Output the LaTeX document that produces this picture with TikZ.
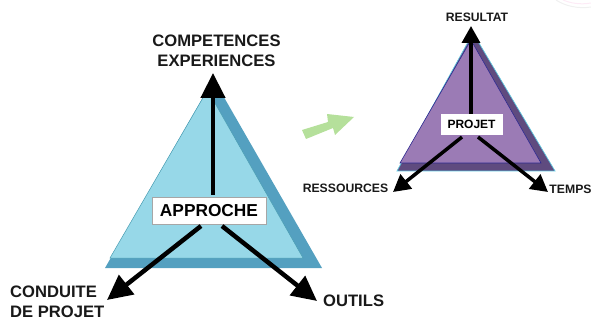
\documentclass[tikz,border=0pt]{standalone}
\usepackage{fontspec}
\setmainfont{Liberation Sans}
\usetikzlibrary{arrows.meta}
\definecolor{tealdark}{HTML}{54A0C0}
\definecolor{teallight}{HTML}{97D8E8}
\definecolor{tealline}{HTML}{4A9DB2}
\definecolor{purpledark}{HTML}{5F4B7F}
\definecolor{purplelight}{HTML}{9B7BB5}
\definecolor{purpleline}{HTML}{2E2A90}
\definecolor{cyanline}{HTML}{5CC4DC}
\definecolor{greenarrow}{HTML}{B5E09B}
\tikzset{
  big/.style={font=\bfseries\fontsize{16.6}{20}\selectfont,align=center,text=black!90,inner sep=0pt},
  small/.style={font=\bfseries\fontsize{12.2}{14}\selectfont,align=center,text=black!90,inner sep=0pt},
  bigbox/.style={draw=black!35,line width=.6pt,fill=white,minimum width=114pt,minimum height=27pt,font=\bfseries\fontsize{17.3}{20}\selectfont,inner sep=0pt},
  smallbox/.style={draw=white,fill=white,minimum width=61pt,minimum height=20pt,font=\bfseries\fontsize{12}{14}\selectfont,inner sep=0pt},
  bigarrow/.style={line width=4.5pt,-{Triangle[length=25pt,width=24pt]}},
  smallarrow/.style={line width=3.5pt,-{Triangle[length=17pt,width=18pt]}},
}
\begin{document}
\begin{tikzpicture}[x=1pt,y=-1pt]
\useasboundingbox (0,0) rectangle (591,320);
% faint decoration
\draw[draw=black!6,line width=1pt] (556,0) .. controls (565,6) and (578,9) .. (591,7);
\draw[draw=magenta!8,line width=1pt] (563,0) .. controls (570,3) and (580,5) .. (591,3);
% left triangle
\fill[tealdark] (105,268) -- (213.5,79) -- (322,268) -- cycle;
\draw[tealline,line width=.5pt,fill=teallight] (110,258) -- (207.5,90) -- (303,258) -- cycle;
% right triangle
\draw[cyanline,line width=.7pt,fill=purpledark] (397,171) -- (473,33) -- (555,171) -- cycle;
\draw[purpleline,line width=.6pt,fill=purplelight] (400,163) -- (471,40) -- (541,163) -- cycle;
% green arrow
\fill[greenarrow] (302,130) -- (328,122) -- (327,114) -- (354,117) -- (335,135) -- (333,128) -- (306,139) -- cycle;
% nodes
\node[bigbox] (app) at (209,210.5) {APPROCHE};
\node[smallbox] (proj) at (471.5,124) {PROJET};
\node[big] (comp) at (216.5,51) {COMPETENCES\\EXPERIENCES};
\node[big,align=left,anchor=west] (cond) at (10,302) {CONDUITE\\DE PROJET};
\node[big,anchor=west] (out) at (323,301) {OUTILS};
\node[small] (res) at (477,17) {RESULTAT};
\node[small] (ress) at (345.5,188.5) {RESSOURCES};
\node[small] (temps) at (570.5,189) {TEMPS};
\coordinate (tipa) at (213,73);
\coordinate (tipb) at (107,300);
\coordinate (tipc) at (317,301);
\coordinate (tipd) at (471,26);
\coordinate (tipe) at (393,192);
\coordinate (tipf) at (548,192);
\coordinate (sa) at (213,195);
\coordinate (sb) at (201,226);
\coordinate (sc) at (222,226);
\coordinate (sd) at (471,114);
\coordinate (se) at (462,137);
\coordinate (sf) at (478,137);
\draw[bigarrow] (sa) -- (tipa);
\draw[bigarrow] (sb) -- (tipb);
\draw[bigarrow] (sc) -- (tipc);
\draw[smallarrow] (sd) -- (tipd);
\draw[smallarrow] (se) -- (tipe);
\draw[smallarrow] (sf) -- (tipf);
\end{tikzpicture}
\end{document}
